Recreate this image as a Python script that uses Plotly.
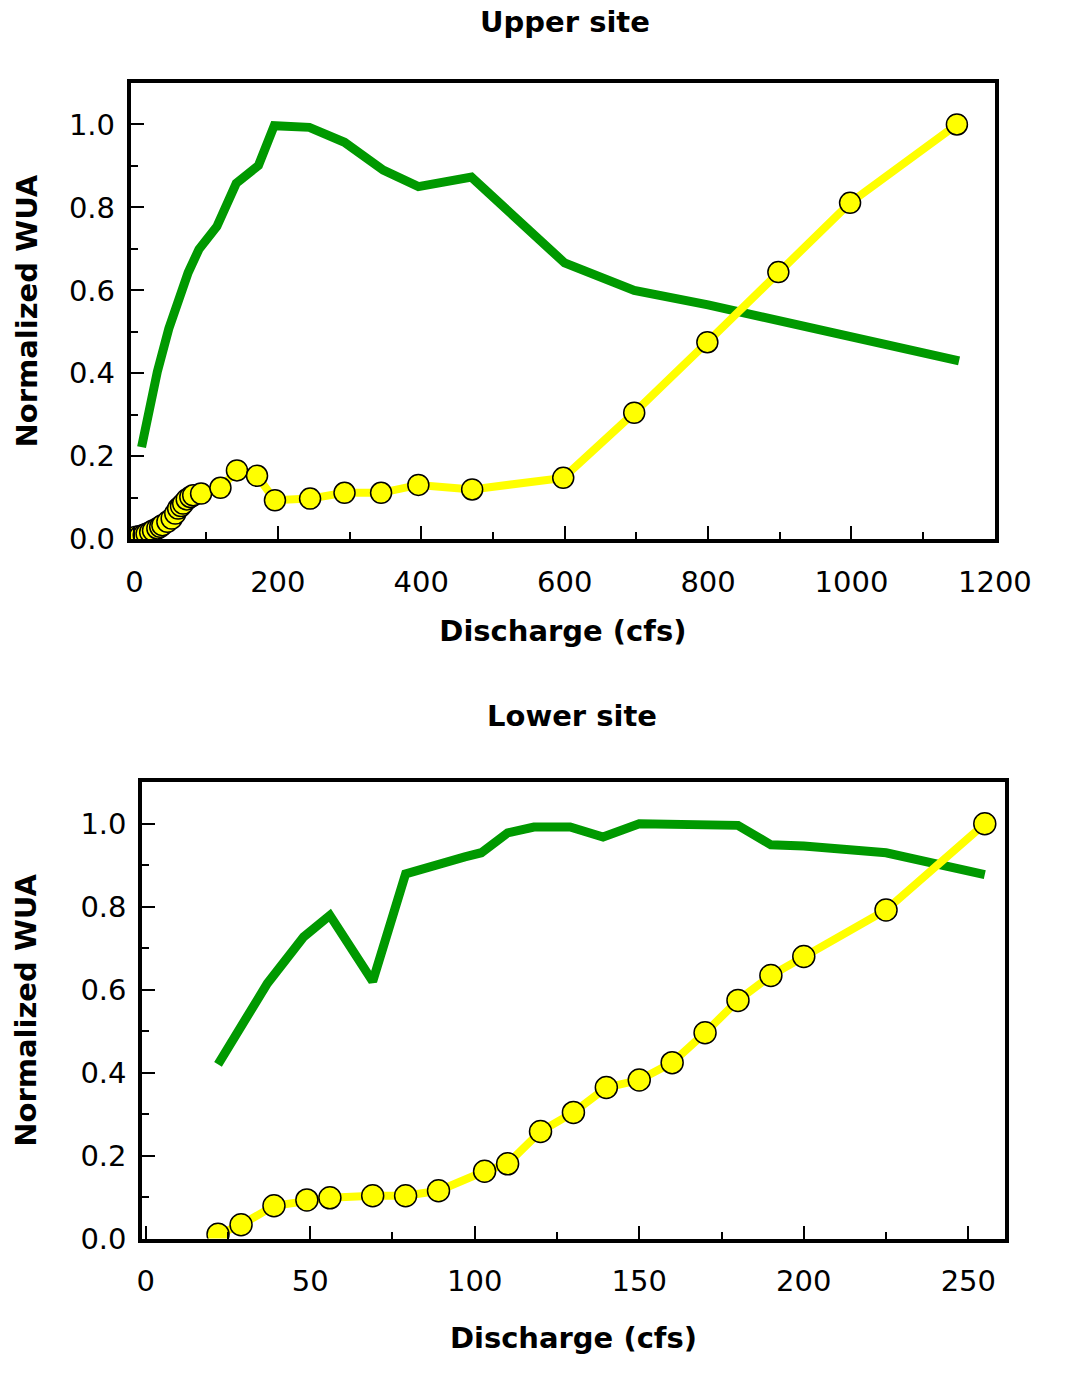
import plotly.graph_objects as go

# ---------------- Data ----------------
upper_green_x = [10, 32, 48, 64, 75, 90, 115, 142, 173, 195, 219, 244, 293, 347, 396, 470, 600, 697, 800, 900, 1000, 1150]
upper_green_y = [0.222, 0.404, 0.508, 0.587, 0.643, 0.699, 0.754, 0.858, 0.901, 0.997, 0.993, 0.993, 0.957, 0.89, 0.85, 0.873, 0.666, 0.60, 0.565, 0.525, 0.49, 0.43]

upper_yellow_x = [2, 8, 13, 17, 22, 26, 32, 36, 39, 46, 52, 57, 61, 65, 68, 73, 78, 82, 93, 120, 143, 171, 196, 245, 293, 344, 396, 471, 598, 697, 799, 898, 998, 1147]
upper_yellow_y = [0.006, 0.008, 0.010, 0.013, 0.017, 0.021, 0.026, 0.030, 0.034, 0.042, 0.050, 0.062, 0.074, 0.080, 0.086, 0.096, 0.102, 0.106, 0.110, 0.124, 0.166, 0.153, 0.094, 0.098, 0.112, 0.112, 0.131, 0.120, 0.148, 0.305, 0.475, 0.644, 0.811, 1.0]

lower_green_x = [22, 37, 48, 56, 69, 79, 97, 102, 110, 118, 129, 139, 150, 169, 180, 190, 200, 225, 255]
lower_green_y = [0.42, 0.615, 0.727, 0.779, 0.62, 0.879, 0.92, 0.93, 0.978, 0.992, 0.992, 0.968, 1.0, 1.0, 0.996, 0.949, 0.946, 0.93, 0.877]

lower_yellow_x = [22, 29, 39, 49, 56, 69, 79, 89, 103, 110, 120, 130, 140, 150, 160, 170, 180, 190, 200, 225, 255]
lower_yellow_y = [0.01, 0.033, 0.079, 0.093, 0.098, 0.103, 0.103, 0.115, 0.162, 0.18, 0.258, 0.304, 0.364, 0.382, 0.424, 0.496, 0.574, 0.634, 0.68, 0.792, 1.0]

upper_xticks = [0, 200, 400, 600, 800, 1000, 1200]
lower_xticks = [0, 50, 100, 150, 200, 250]
yticks = [0.0, 0.2, 0.4, 0.6, 0.8, 1.0]
ytick_labels = ["0.0", "0.2", "0.4", "0.6", "0.8", "1.0"]

titles = ["Upper site", "Lower site"]
x_title = "Discharge (cfs)"
y_title = "Normalized WUA"

# ---------------- Styling ----------------
W, H = 1078, 1376
GREEN = "#009900"
YELLOW = "#FFFF00"
FONT = "DejaVu Sans"

fig = go.Figure()

fig.add_trace(go.Scatter(x=upper_green_x, y=upper_green_y, mode="lines",
                         line=dict(color=GREEN, width=9), xaxis="x", yaxis="y", showlegend=False))
fig.add_trace(go.Scatter(x=upper_yellow_x, y=upper_yellow_y, mode="lines+markers",
                         line=dict(color=YELLOW, width=8),
                         marker=dict(size=21, color=YELLOW, line=dict(color="black", width=1.5)),
                         xaxis="x", yaxis="y", showlegend=False))
fig.add_trace(go.Scatter(x=lower_green_x, y=lower_green_y, mode="lines",
                         line=dict(color=GREEN, width=9), xaxis="x2", yaxis="y2", showlegend=False))
fig.add_trace(go.Scatter(x=lower_yellow_x, y=lower_yellow_y, mode="lines+markers",
                         line=dict(color=YELLOW, width=8),
                         marker=dict(size=22, color=YELLOW, line=dict(color="black", width=1.5)),
                         xaxis="x2", yaxis="y2", showlegend=False))

def px_x(p):
    return p / W

def px_y(p):
    return 1 - p / H

common_axis = dict(
    showline=True, linecolor="black", linewidth=4, mirror=True,
    ticks="inside", ticklen=13, tickwidth=2, tickcolor="black",
    showgrid=False, zeroline=False,
    tickfont=dict(family=FONT, size=29, color="black"),
    title_font=dict(family=FONT, size=29, color="black"),
)

xa = dict(common_axis)
xa.update(range=[-5, 1200], tickvals=upper_xticks, domain=[px_x(130), px_x(1030)],
          anchor="y", ticklabelstandoff=14,
          minor=dict(dtick=100, tick0=0, ticks="inside", ticklen=7, tickwidth=2, tickcolor="black"),
          title=dict(text="<b>" + x_title + "</b>", standoff=24))
ya = dict(common_axis)
ya.update(range=[0, 1.1], tickvals=yticks, ticktext=ytick_labels, domain=[px_y(546), px_y(84)],
          anchor="x", ticklabelstandoff=6,
          minor=dict(dtick=0.1, tick0=0, ticks="inside", ticklen=7, tickwidth=2, tickcolor="black"),
          title=dict(text="<b>" + y_title + "</b>", standoff=24))

xa2 = dict(common_axis)
xa2.update(range=[-1, 261], tickvals=lower_xticks, domain=[px_x(142), px_x(1040)],
           anchor="y2", ticklabelstandoff=14,
           minor=dict(dtick=25, tick0=0, ticks="inside", ticklen=7, tickwidth=2, tickcolor="black"),
           title=dict(text="<b>" + x_title + "</b>", standoff=31))
ya2 = dict(common_axis)
ya2.update(range=[0, 1.1], tickvals=yticks, ticktext=ytick_labels, domain=[px_y(1254), px_y(792)],
           anchor="x2", ticklabelstandoff=6,
           minor=dict(dtick=0.1, tick0=0, ticks="inside", ticklen=7, tickwidth=2, tickcolor="black"),
           title=dict(text="<b>" + y_title + "</b>", standoff=36))

fig.update_layout(
    width=W, height=H,
    margin=dict(l=0, r=0, t=0, b=0),
    paper_bgcolor="white", plot_bgcolor="white",
    xaxis=xa, yaxis=ya, xaxis2=xa2, yaxis2=ya2,
    annotations=[
        dict(text="<b>" + titles[0] + "</b>", x=px_x(582), y=px_y(22), xref="paper", yref="paper",
             xanchor="center", yanchor="middle", showarrow=False,
             font=dict(family=FONT, size=29, color="black")),
        dict(text="<b>" + titles[1] + "</b>", x=px_x(590), y=px_y(725), xref="paper", yref="paper",
             xanchor="center", yanchor="middle", showarrow=False,
             font=dict(family=FONT, size=29, color="black")),
    ],
)

fig.write_html("out.html")
